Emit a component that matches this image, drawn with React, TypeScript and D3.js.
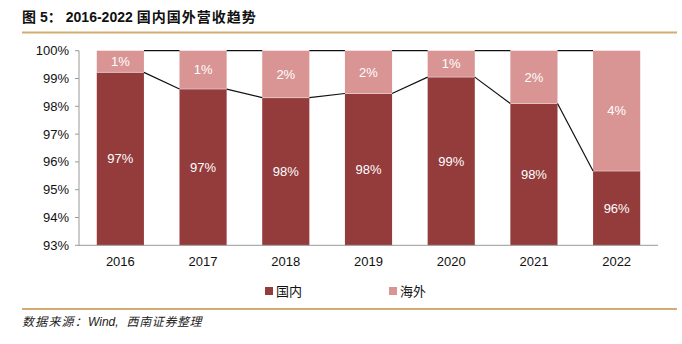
import React from "react";
import * as d3 from "d3";

const years = ["2016", "2017", "2018", "2019", "2020", "2021", "2022"];
const domestic = [99.22, 98.62, 98.31, 98.46, 99.05, 98.1, 95.67];
const domesticLabels = ["97%", "97%", "98%", "98%", "99%", "98%", "96%"];
const overseasLabels = ["1%", "1%", "2%", "2%", "1%", "2%", "4%"];
const yTicks = [93, 94, 95, 96, 97, 98, 99, 100];
const seriesNames = ["国内", "海外"];

const W = 682, H = 344;
const left = 79, right = 658, top = 50.7, bottom = 245.3;
const darkC = "#943B3B";
const lightC = "#D99594";
const gold = "#D2AC72";
const font = "'Liberation Sans', Arial, sans-serif";
const cjk = "'Noto Sans CJK SC', sans-serif";

export default function App() {
  const x = d3.scaleBand().domain(years).range([left, right]).paddingInner(0.43).paddingOuter(0.215);
  const y = d3.scaleLinear().domain([93, 100]).range([bottom, top]);
  const bw = x.bandwidth();

  const lines: { x1: number; x2: number; y1: number; y2: number }[] = [];
  for (let i = 0; i < years.length - 1; i++) {
    const a = x(years[i])! + bw, b = x(years[i + 1])!;
    lines.push({ x1: a, x2: b, y1: y(domestic[i]), y2: y(domestic[i + 1]) });
    lines.push({ x1: a, x2: b, y1: y(100), y2: y(100) });
  }

  return (
    <svg width={W} height={H} style={{ position: "absolute", left: 0, top: 0, background: "#fff" }}>
      <text x={22} y={22} fontFamily={`${font}, ${cjk}`} fontWeight="bold" fontSize={14} fill="#111">
        <tspan fontFamily={cjk}>图</tspan>
        <tspan dx={4}>5</tspan>
        <tspan fontFamily={cjk}>：</tspan>
        <tspan dx={4}>2016-2022</tspan>
        <tspan dx={4} fontFamily={cjk} letterSpacing={1}>国内国外营收趋势</tspan>
      </text>
      <line x1={22} x2={677} y1={32.5} y2={32.5} stroke={gold} strokeWidth={2} />

      {years.map((yr, i) => {
        const x0 = x(yr)!;
        const yd = y(domestic[i]);
        return (
          <g key={yr}>
            <rect x={x0} y={yd} width={bw} height={bottom - yd} fill={darkC} />
            <rect x={x0} y={y(100)} width={bw} height={yd - y(100)} fill={lightC} />
            <line x1={x0} x2={x0 + bw} y1={yd} y2={yd} stroke="#fff" strokeOpacity={0.5} strokeWidth={0.8} />
            <text x={x0 + bw / 2} y={(yd + bottom) / 2} dy="0.35em" textAnchor="middle" fill="#fff" fontFamily={font} fontSize={13}>
              {domesticLabels[i]}
            </text>
            <text x={x0 + bw / 2} y={(yd + y(100)) / 2} dy="0.35em" textAnchor="middle" fill="#fff" fontFamily={font} fontSize={13}>
              {overseasLabels[i]}
            </text>
            <text x={x0 + bw / 2} y={266} textAnchor="middle" fill="#111" fontFamily={font} fontSize={13}>
              {yr}
            </text>
          </g>
        );
      })}

      {lines.map((l, i) => (
        <line key={i} x1={l.x1} x2={l.x2} y1={l.y1} y2={l.y2} stroke="#111" strokeWidth={1.2} />
      ))}

      <line x1={left} x2={left} y1={top} y2={bottom} stroke="#999" strokeWidth={1} />
      <line x1={left} x2={right} y1={bottom} y2={bottom} stroke="#999" strokeWidth={1} />
      {yTicks.map((t) => (
        <g key={t}>
          <line x1={left - 4} x2={left} y1={y(t)} y2={y(t)} stroke="#999" />
          <text x={69} y={y(t)} dy="0.35em" textAnchor="end" fill="#111" fontFamily={font} fontSize={13}>
            {t}%
          </text>
        </g>
      ))}

      <rect x={265} y={287} width={8} height={8} fill={darkC} />
      <text x={276} y={295.5} fontFamily={cjk} fontSize={13} fill="#111">{seriesNames[0]}</text>
      <rect x={389} y={287} width={8} height={8} fill={lightC} />
      <text x={400} y={295.5} fontFamily={cjk} fontSize={13} fill="#111">{seriesNames[1]}</text>

      <line x1={22} x2={677} y1={309} y2={309} stroke={gold} strokeWidth={2} />
      <text x={22} y={326} fontFamily={`${font}, ${cjk}`} fontStyle="italic" fontSize={12} fill="#222">
        <tspan fontFamily={cjk} letterSpacing={1.2}>数据来源：</tspan>
        <tspan>Wind,</tspan>
        <tspan dx={8} fontFamily={cjk} letterSpacing={0.6}>西南证券整理</tspan>
      </text>
    </svg>
  );
}
